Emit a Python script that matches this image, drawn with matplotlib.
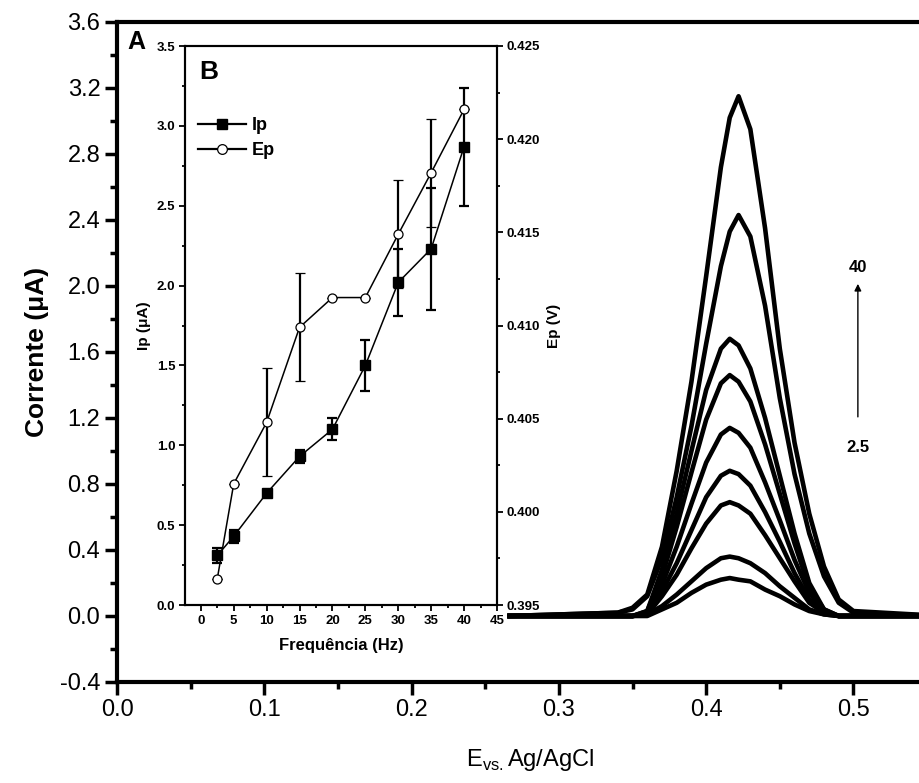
import matplotlib
matplotlib.use("Agg")
import matplotlib.pyplot as plt
from matplotlib.ticker import MultipleLocator, FormatStrFormatter
from matplotlib.lines import Line2D

plt.rcParams['font.family'] = ['Liberation Sans', 'DejaVu Sans']
plt.rcParams['mathtext.fontset'] = 'custom'
plt.rcParams['mathtext.rm'] = 'Liberation Sans'

# ---------------- data: main panel (A) ----------------
potential = [0.265, 0.34, 0.35, 0.36, 0.37, 0.38, 0.39, 0.40, 0.41, 0.416, 0.422,
             0.43, 0.44, 0.45, 0.46, 0.47, 0.48, 0.49, 0.50, 0.56]
curve_40 = [0, 0.02, 0.05, 0.13, 0.42, 0.88, 1.42, 2.06, 2.72, 3.02, 3.15,
            2.95, 2.35, 1.62, 1.05, 0.62, 0.30, 0.10, 0.03, 0]
curve_35 = [0, 0.02, 0.04, 0.12, 0.35, 0.72, 1.15, 1.65, 2.12, 2.33, 2.43,
            2.30, 1.88, 1.32, 0.86, 0.50, 0.24, 0.08, 0.02, 0]
curve_30 = [0, 0, 0, 0.03, 0.28, 0.62, 1.00, 1.37, 1.62, 1.68, 1.64,
            1.50, 1.20, 0.85, 0.50, 0.20, 0.04, 0, 0, 0]
curve_25 = [0, 0, 0, 0.03, 0.24, 0.54, 0.87, 1.19, 1.41, 1.46, 1.42,
            1.30, 1.04, 0.74, 0.44, 0.17, 0.04, 0, 0, 0]
curve_20 = [0, 0, 0, 0.02, 0.19, 0.42, 0.68, 0.93, 1.10, 1.14, 1.11,
            1.02, 0.81, 0.58, 0.34, 0.14, 0.03, 0, 0, 0]
curve_15 = [0, 0, 0, 0.02, 0.15, 0.32, 0.52, 0.72, 0.85, 0.88, 0.86,
            0.79, 0.63, 0.45, 0.26, 0.10, 0.02, 0, 0, 0]
curve_10 = [0, 0, 0, 0.01, 0.12, 0.25, 0.41, 0.56, 0.67, 0.69, 0.67,
            0.62, 0.49, 0.35, 0.21, 0.08, 0.02, 0, 0, 0]
curve_5 = [0, 0, 0, 0.01, 0.06, 0.13, 0.21, 0.29, 0.35, 0.36, 0.35,
           0.32, 0.26, 0.18, 0.11, 0.04, 0.01, 0, 0, 0]
curve_2_5 = [0, 0, 0, 0, 0.04, 0.08, 0.14, 0.19, 0.22, 0.23, 0.22,
             0.21, 0.16, 0.12, 0.07, 0.03, 0.01, 0, 0, 0]
curves = [curve_2_5, curve_5, curve_10, curve_15, curve_20, curve_25,
          curve_30, curve_35, curve_40]

# ---------------- data: inset (B) ----------------
freq = [2.5, 5, 10, 15, 20, 25, 30, 35, 40]
ip = [0.31, 0.43, 0.70, 0.93, 1.10, 1.50, 2.02, 2.23, 2.87]
ip_err = [0.05, 0.04, 0.02, 0.04, 0.07, 0.16, 0.21, 0.38, 0.37]
ep = [0.3964, 0.4015, 0.4048, 0.4099, 0.4115, 0.4115, 0.4149, 0.4182, 0.4216]
ep_err = [0, 0, 0.0029, 0.0029, 0, 0, 0.0029, 0.0029, 0]

W, H = 919, 783
fig = plt.figure(figsize=(W / 100, H / 100), dpi=100)

# main axes
L, R, T, B = 117, 919, 22, 682
ax = fig.add_axes([L / W, (H - B) / H, (R - L) / W, (B - T) / H])
for c in curves:
    ax.plot(potential, c, color='black', lw=3.3, solid_joinstyle='round',
            solid_capstyle='butt')
ax.set_xlim(0, 0.5445)
ax.set_ylim(-0.4, 3.6)
ax.xaxis.set_major_locator(MultipleLocator(0.1))
ax.xaxis.set_minor_locator(MultipleLocator(0.05))
ax.yaxis.set_major_locator(MultipleLocator(0.4))
ax.yaxis.set_minor_locator(MultipleLocator(0.2))
ax.xaxis.set_major_formatter(FormatStrFormatter('%.1f'))
ax.yaxis.set_major_formatter(FormatStrFormatter('%.1f'))
ax.spines['right'].set_visible(False)
for s in ['left', 'bottom', 'top']:
    ax.spines[s].set_linewidth(3)
ax.tick_params(which='major', direction='out', length=9, width=2.5,
               labelsize=17, pad=3, top=False, right=False)
ax.tick_params(which='minor', direction='out', length=5, width=2.5,
               top=False, right=False)
ax.set_ylabel('Corrente (μA)', fontsize=19, fontweight='bold', labelpad=8)

ax.annotate('', xy=(0.503, 2.03), xytext=(0.503, 1.19),
            arrowprops=dict(arrowstyle='-|>', color='black', lw=1.0,
                            mutation_scale=10))
ax.text(0.503, 2.11, '40', ha='center', va='center', fontsize=12,
        fontweight='bold')
ax.text(0.503, 1.02, '2.5', ha='center', va='center', fontsize=12,
        fontweight='bold')
ax.text(0.007, 3.48, 'A', ha='left', va='center', fontsize=18,
        fontweight='bold')

fig.text(0.577, 0.03, r'E$_{\mathregular{vs.}}$Ag/AgCl', ha='center',
         va='center', fontsize=17)

# inset
iL, iR, iT, iB = 185, 497, 46, 605
ins = fig.add_axes([iL / W, (H - iB) / H, (iR - iL) / W, (iB - iT) / H])
ins.set_facecolor('white')
ins.errorbar(freq, ip, yerr=ip_err, color='black', marker='s', ms=6.5,
             mfc='black', mec='black', lw=1.1, elinewidth=1.6, capsize=3.5,
             capthick=1.6)
ins.set_xlim(-2.4, 45)
ins.set_ylim(0, 3.5)
ins.xaxis.set_major_locator(MultipleLocator(5))
ins.xaxis.set_minor_locator(MultipleLocator(2.5))
ins.yaxis.set_major_locator(MultipleLocator(0.5))
ins.yaxis.set_minor_locator(MultipleLocator(0.25))
ins.yaxis.set_major_formatter(FormatStrFormatter('%.1f'))
for s in ins.spines.values():
    s.set_linewidth(1.5)
ins.tick_params(which='major', direction='out', length=4, width=1.3,
                labelsize=9.5, pad=3)
ins.tick_params(which='minor', direction='out', length=2.5, width=1.3)
for lab in ins.get_xticklabels() + ins.get_yticklabels():
    lab.set_fontweight('bold')
ins.set_xlabel('Frequência (Hz)', fontsize=12, fontweight='bold', labelpad=8)
ins.set_ylabel('Ip (μA)', fontsize=11, fontweight='bold', labelpad=4)

tw = ins.twinx()
tw.errorbar(freq, ep, yerr=ep_err, color='black', marker='o', ms=6.5,
            mfc='white', mec='black', mew=0.9, lw=1.1, elinewidth=1.6,
            capsize=3.5, capthick=1.6)
tw.set_ylim(0.395, 0.425)
tw.yaxis.set_major_locator(MultipleLocator(0.005))
tw.yaxis.set_minor_locator(MultipleLocator(0.0025))
tw.yaxis.set_major_formatter(FormatStrFormatter('%.3f'))
tw.tick_params(which='major', direction='out', length=4, width=1.3,
               labelsize=9.5, pad=3)
tw.tick_params(which='minor', direction='out', length=2.5, width=1.3)
for lab in tw.get_yticklabels():
    lab.set_fontweight('bold')
for s in tw.spines.values():
    s.set_linewidth(1.5)
tw.set_ylabel('Ep (V)', fontsize=11, fontweight='bold', labelpad=5)

handles = [Line2D([], [], color='black', lw=1.6, marker='s', ms=6.5,
                  mfc='black', mec='black'),
           Line2D([], [], color='black', lw=1.6, marker='o', ms=7,
                  mfc='white', mec='black', mew=0.9)]
tw.legend(handles, ['Ip', 'Ep'], loc='upper left',
          bbox_to_anchor=(0.0, 0.895), frameon=False,
          prop=dict(weight='bold', size=13), handlelength=2.7,
          handletextpad=0.3, labelspacing=0.45, borderaxespad=0.3)
ins.text(0.045, 0.975, 'B', transform=ins.transAxes, ha='left', va='top',
         fontsize=19, fontweight='bold')

fig.savefig('out.png', dpi=100)
